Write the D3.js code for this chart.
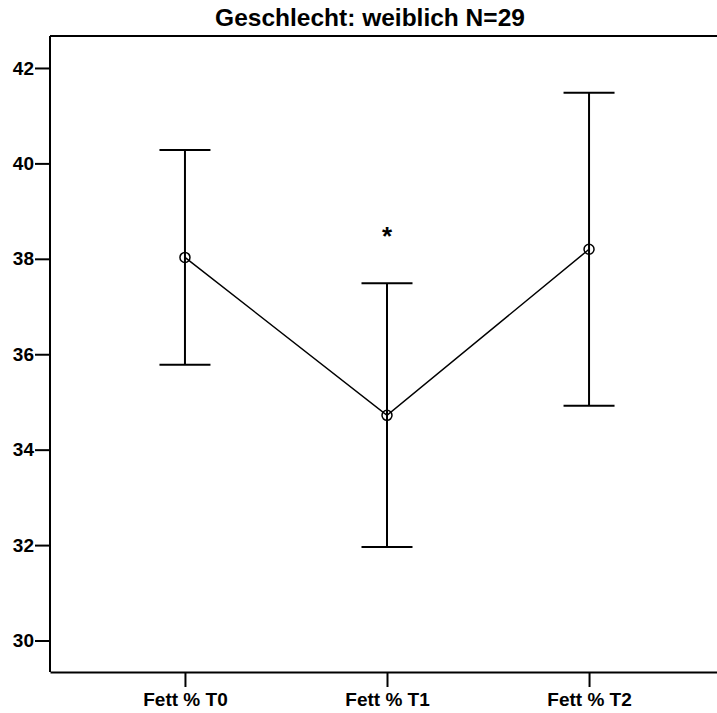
<!DOCTYPE html>
<html>
<head>
<meta charset="utf-8">
<script src="https://cdn.jsdelivr.net/npm/d3@7"></script>
<style>
  body { margin: 0; background: #fff; }
  svg { font-family: "Liberation Sans", Arial, sans-serif; }
  .axis path, .axis line { stroke: #000; stroke-width: 2; }
</style>
</head>
<body>
<svg class="chart" width="717" height="713"></svg>
<script>
// Mittelwerte und Konfidenzintervalle
const categories = ["Fett % T0", "Fett % T1", "Fett % T2"];
const means = [38.03, 34.72, 38.20];
const upper = [40.28, 37.49, 41.48];
const lower = [35.78, 31.96, 34.92];
const yTicks = [30, 32, 34, 36, 38, 40, 42];
const marks = ["", "*", ""];

const data = categories.map((c, i) => ({ cat: c, mean: means[i], hi: upper[i], lo: lower[i], mark: marks[i] }));

const svg = d3.select(".chart"),
    margin = { top: 36, right: -7, bottom: 41, left: 50 },
    width = +svg.attr("width") - margin.left - margin.right,
    height = +svg.attr("height") - margin.top - margin.bottom,
    g = svg.append("g").attr("transform", `translate(${margin.left},${margin.top})`);

const x = d3.scalePoint()
    .domain(categories)
    .range([0, width])
    .padding(0.668);

const y = d3.scaleLinear()
    .domain([29.34, 42.67])
    .range([height, 0]);

// Rahmen oben
g.append("line")
    .attr("x1", 0).attr("x2", width)
    .attr("y1", 0).attr("y2", 0)
    .attr("stroke", "#000").attr("stroke-width", 2);

g.append("g")
    .attr("class", "axis axis--x")
    .attr("transform", `translate(0,${height})`)
    .call(d3.axisBottom(x).tickSize(15).tickSizeOuter(0).tickPadding(6))
    .call(a => a.selectAll("text").style("font-size", "19px").style("font-weight", "bold").attr("fill", "#000"));

g.append("g")
    .attr("class", "axis axis--y")
    .call(d3.axisLeft(y).tickValues(yTicks).tickSize(15).tickSizeOuter(0).tickPadding(1))
    .call(a => a.select(".domain").attr("d", `M0,0V${height}`))
    .call(a => a.selectAll("text").style("font-size", "19px").style("font-weight", "bold").attr("fill", "#000"));

// Fehlerbalken
const bars = g.selectAll(".err")
    .data(data)
    .enter().append("g")
    .attr("class", "err")
    .attr("stroke", "#000")
    .attr("stroke-width", 2);

bars.append("line")
    .attr("x1", d => x(d.cat)).attr("x2", d => x(d.cat))
    .attr("y1", d => y(d.hi)).attr("y2", d => y(d.lo));

bars.append("line")
    .attr("x1", d => x(d.cat) - 25.5).attr("x2", d => x(d.cat) + 25.5)
    .attr("y1", d => y(d.hi)).attr("y2", d => y(d.hi));

bars.append("line")
    .attr("x1", d => x(d.cat) - 25.5).attr("x2", d => x(d.cat) + 25.5)
    .attr("y1", d => y(d.lo)).attr("y2", d => y(d.lo));

const line = d3.line()
    .x(d => x(d.cat))
    .y(d => y(d.mean));

g.append("path")
    .datum(data)
    .attr("fill", "none")
    .attr("stroke", "#000")
    .attr("stroke-width", 1.5)
    .attr("d", line);

g.selectAll(".dot")
    .data(data)
    .enter().append("circle")
    .attr("class", "dot")
    .attr("cx", d => x(d.cat))
    .attr("cy", d => y(d.mean))
    .attr("r", 5)
    .attr("fill", "none")
    .attr("stroke", "#000")
    .attr("stroke-width", 1.5);

g.selectAll(".mark")
    .data(data)
    .enter().append("text")
    .attr("class", "mark")
    .attr("x", d => x(d.cat))
    .attr("y", d => y(d.hi) - 38)
    .attr("text-anchor", "middle")
    .style("font-size", "26px")
    .style("font-weight", "bold")
    .text(d => d.mark);

svg.append("text")
    .attr("x", 370)
    .attr("y", 26)
    .attr("text-anchor", "middle")
    .style("font-weight", "bold")
    .style("font-size", "24.5px")
    .text("Geschlecht: weiblich N=29");
</script>
</body>
</html>
